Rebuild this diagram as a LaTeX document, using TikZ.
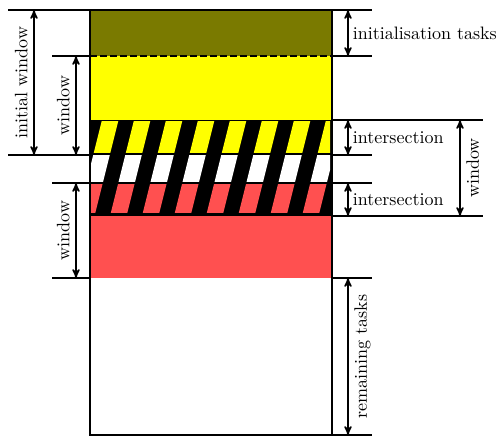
\documentclass[tikz,border=0pt]{standalone}
\usepackage{tikz}
\usetikzlibrary{arrows}
\definecolor{initcol}{RGB}{122,122,0}
\definecolor{wincol}{RGB}{255,255,0}
\definecolor{nextcol}{RGB}{255,80,80}

\begin{document}
\begin{tikzpicture} [x = 0.6pt, y = -0.6pt, >=stealth', font = \fontsize{10.8pt}{13pt}\selectfont,
  dim/.style = {<->, line width = 0.9pt},
  ext/.style = {line width = 0.9pt}]
\useasboundingbox (0,0) rectangle (497,437);
% bands
\fill[initcol] (90,10) rectangle (332,56);
\fill[wincol] (90,56) rectangle (332,120);
\fill[black] (90,120) rectangle (332,216);
\foreach \ya/\yb/\col in {122/153/wincol, 156/182/white, 185/213/nextcol} {
  \begin{scope}
  \clip (90,\ya) rectangle (330,\yb);
  \foreach \k in {0,...,9}
    \fill[\col] (70+32*\k,120) -- ++(16.5,0) -- ++(-24,96) -- ++(-16.5,0) -- cycle;
  \end{scope}
}
\fill[nextcol] (90,216) rectangle (332,278);
\draw[dashed, dash pattern = on 4.2pt off 1.8pt, line width = 1.2pt] (90,56) -- (332,56);
\draw[line width = 1.2pt] (90,10) rectangle (332,435);
% extension lines
\draw[ext] (8,10) -- (90,10);
\draw[ext] (8,155) -- (90,155);
\draw[ext] (52,56) -- (90,56);
\draw[ext] (52,183) -- (90,183);
\draw[ext] (52,278) -- (90,278);
\draw[ext] (332,10) -- (372,10);
\draw[ext] (332,56) -- (372,56);
\draw[ext] (332,120) -- (483,120);
\draw[ext] (332,155) -- (372,155);
\draw[ext] (332,183) -- (372,183);
\draw[ext] (332,216) -- (483,216);
\draw[ext] (332,278) -- (372,278);
\draw[ext] (332,435) -- (372,435);
% arrow ends
\coordinate (iwt) at (34,10);   \coordinate (iwb) at (34,155);
\coordinate (w1t) at (76,56);   \coordinate (w1b) at (76,155);
\coordinate (w2t) at (76,183);  \coordinate (w2b) at (76,278);
\coordinate (itt) at (348,10);  \coordinate (itb) at (348,56);
\coordinate (x1t) at (348,120); \coordinate (x1b) at (348,155);
\coordinate (x2t) at (348,183); \coordinate (x2b) at (348,216);
\coordinate (w3t) at (460,120); \coordinate (w3b) at (460,216);
\coordinate (rtt) at (348,278); \coordinate (rtb) at (348,435);
% dimensions
\draw[dim] (iwb) -- node[sloped, above] (iw) {initial window} (iwt);
\draw[dim] (w1b) -- node[sloped, above] (w1) {window} (w1t);
\draw[dim] (w2b) -- node[sloped, above] (w2) {window} (w2t);
\draw[dim] (itt) -- node[right, inner sep = 2.5pt] (it) {initialisation tasks} (itb);
\draw[dim] (x1t) -- node[right, inner sep = 2.5pt] (x1) {intersection} (x1b);
\draw[dim] (x2t) -- node[right, inner sep = 2.5pt] (x2) {intersection} (x2b);
\draw[dim] (w3b) -- node[sloped, below] (w3) {window} (w3t);
\draw[dim] (rtb) -- node[sloped, below] (rt) {remaining tasks} (rtt);
\end{tikzpicture}
\end{document}
